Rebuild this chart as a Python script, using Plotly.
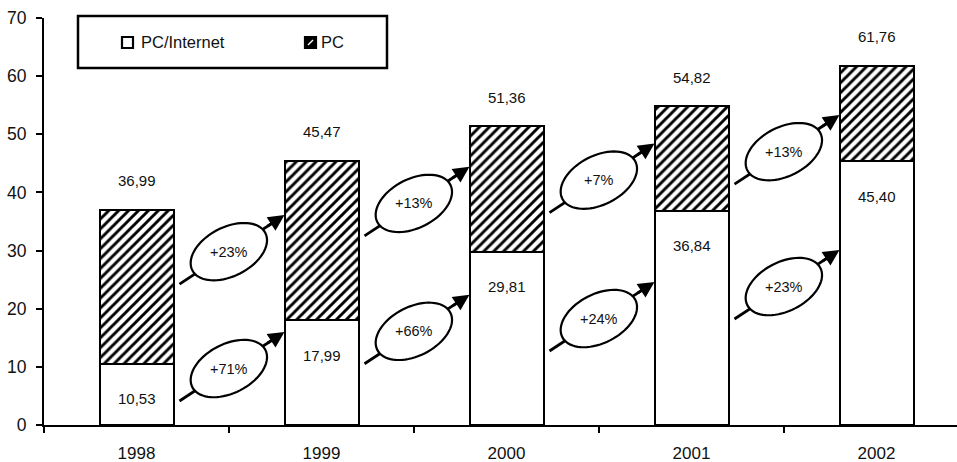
import math
import plotly.graph_objects as go

# --- data -------------------------------------------------------------
years = ["1998", "1999", "2000", "2001", "2002"]
pc_internet = [10.53, 17.99, 29.81, 36.84, 45.40]   # lower segment
totals = [36.99, 45.47, 51.36, 54.82, 61.76]        # PC/Internet + PC
pc_only = [round(t - p, 2) for t, p in zip(totals, pc_internet)]

growth_total = ["+23%", "+13%", "+7%", "+13%"]      # year-on-year, whole bar
growth_pci = ["+71%", "+66%", "+24%", "+23%"]       # year-on-year, PC/Internet

# heights (axis units) where the growth arrows end on the next bar
tip_total = [36.1, 44.4, 48.4, 53.3]
tip_pci = [16.0, 22.4, 24.6, 30.1]

# --- layout constants -------------------------------------------------
W, H = 957, 462
ML, MR, MT, MB = 44, 0, 18, 37
BAR_W = 0.4
X_SPAN = (W - ML - MR) / 185.0
FONT = "Liberation Sans, Arial, sans-serif"
INK = "#000000"
TXT = "#111111"

xs = list(range(len(years)))
fmt = lambda v: f"{v:.2f}".replace(".", ",")

fig = go.Figure()
fig.add_trace(go.Bar(
    x=xs, y=pc_internet, width=BAR_W, name="PC/Internet",
    marker=dict(color="white", line=dict(color=INK, width=2.5)),
    hoverinfo="skip", showlegend=False,
))
fig.add_trace(go.Bar(
    x=xs, y=pc_only, width=BAR_W, name="PC",
    marker=dict(
        color="white",
        line=dict(color=INK, width=2.5),
        pattern=dict(shape="/", size=7, solidity=0.42, fgcolor=INK, bgcolor="white", fgopacity=1),
    ),
    hoverinfo="skip", showlegend=False,
))

annotations = []
shapes = []

# value labels
for i in xs:
    annotations.append(dict(x=i, y=totals[i], xref="x", yref="y", text=fmt(totals[i]),
                            showarrow=False, yshift=29, font=dict(size=15, color=TXT, family=FONT)))
    annotations.append(dict(x=i, y=pc_internet[i], xref="x", yref="y", text=fmt(pc_internet[i]),
                            showarrow=False, yshift=-35, font=dict(size=15, color=TXT, family=FONT)))

# growth arrows: tail -> ellipse with label -> arrowhead on the next bar
TAIL_DX, TAIL_DY = -105.0, -69.0       # tail offset from the tip, pixels (y up)
ELL_A, ELL_B, ELL_ROT = 41.0, 24.5, math.radians(27)
ELL_POS = 0.47
HEAD_LEN = 22.0
L = math.hypot(TAIL_DX, TAIL_DY)
ux, uy = -TAIL_DX / L, -TAIL_DY / L


def ellipse_path(cx, cy):
    pts = []
    for k in range(73):
        t = 2 * math.pi * k / 72
        ex, ey = ELL_A * math.cos(t), ELL_B * math.sin(t)
        px = cx + ex * math.cos(ELL_ROT) - ey * math.sin(ELL_ROT)
        py = cy + ex * math.sin(ELL_ROT) + ey * math.cos(ELL_ROT)
        pts.append(f"{px:.2f},{py:.2f}")
    return "M" + " L".join(pts) + " Z"


line_shapes, ell_shapes = [], []
for i in range(len(years) - 1):
    for label, tip in ((growth_total[i], tip_total[i]), (growth_pci[i], tip_pci[i])):
        xa = i + 1 - BAR_W / 2
        common = dict(type="path", xref="x", yref="y", xsizemode="pixel", ysizemode="pixel",
                      xanchor=xa, yanchor=tip)
        line_shapes.append(dict(common, path=f"M{TAIL_DX},{TAIL_DY} L{-ux*8:.2f},{-uy*8:.2f}",
                                line=dict(color=INK, width=2.8)))
        cx, cy = TAIL_DX * (1 - ELL_POS), TAIL_DY * (1 - ELL_POS)
        ell_shapes.append(dict(common, path=ellipse_path(cx, cy), fillcolor="white",
                               line=dict(color=INK, width=2.2)))
        annotations.append(dict(x=xa, y=tip, xref="x", yref="y", text="", showarrow=True,
                                ax=-ux * HEAD_LEN, ay=uy * HEAD_LEN, axref="pixel", ayref="pixel",
                                arrowhead=2, arrowsize=1.15, arrowwidth=2.8, arrowcolor=INK, standoff=0))
        annotations.append(dict(x=xa, y=tip, xref="x", yref="y", text=label, showarrow=False,
                                xshift=cx, yshift=cy, font=dict(size=14.5, color=TXT, family=FONT)))

shapes += line_shapes + ell_shapes

# legend box
def px2paper(px, py):
    return (px - ML) / (W - ML - MR), (H - MB - py) / (H - MT - MB)

bx0, by0 = px2paper(78, 68)
bx1, by1 = px2paper(387, 16)
shapes.append(dict(type="rect", xref="paper", yref="paper", x0=bx0, y0=by0, x1=bx1, y1=by1,
                   fillcolor="white", line=dict(color=INK, width=2.5)))
s1x0, s1y0 = px2paper(122, 48)
s1x1, s1y1 = px2paper(133, 37)
shapes.append(dict(type="rect", xref="paper", yref="paper", x0=s1x0, y0=s1y0, x1=s1x1, y1=s1y1,
                   fillcolor="white", line=dict(color=INK, width=2.2)))
s2x0, s2y0 = px2paper(305, 48)
s2x1, s2y1 = px2paper(316, 37)
shapes.append(dict(type="rect", xref="paper", yref="paper", x0=s2x0, y0=s2y0, x1=s2x1, y1=s2y1,
                   fillcolor=INK, line=dict(color=INK, width=2.2)))
d0x, d0y = px2paper(308, 45)
d1x, d1y = px2paper(313, 40)
shapes.append(dict(type="line", xref="paper", yref="paper", x0=d0x, y0=d0y, x1=d1x, y1=d1y,
                   line=dict(color="white", width=1.5)))
t1x, t1y = px2paper(139, 42)
annotations.append(dict(x=t1x, y=t1y, xref="paper", yref="paper", text="PC/Internet", showarrow=False,
                        xanchor="left", yanchor="middle", font=dict(size=16.5, color=TXT, family=FONT)))
t2x, t2y = px2paper(319, 42)
annotations.append(dict(x=t2x, y=t2y, xref="paper", yref="paper", text="PC", showarrow=False,
                        xanchor="left", yanchor="middle", font=dict(size=16.5, color=TXT, family=FONT)))

fig.update_layout(
    width=W, height=H,
    margin=dict(l=ML, r=MR, t=MT, b=MB, pad=0),
    paper_bgcolor="white", plot_bgcolor="white",
    barmode="stack", bargap=0,
    showlegend=False,
    font=dict(family=FONT, color=TXT),
    shapes=shapes, annotations=annotations,
    xaxis=dict(
        range=[-0.5, -0.5 + X_SPAN], tickvals=xs, ticktext=years, ticks="",
        showline=True, linecolor=INK, linewidth=2.2, showgrid=False, zeroline=False,
        tickfont=dict(size=17, color=TXT, family=FONT), ticklabelstandoff=11,
        minor=dict(tickvals=[i - 0.5 for i in xs], ticks="outside", ticklen=6,
                   tickwidth=2, tickcolor=INK, showgrid=False),
    ),
    yaxis=dict(
        range=[0, 70], tick0=0, dtick=10, ticks="outside", ticklen=6, tickwidth=2, tickcolor=INK,
        showline=True, linecolor=INK, linewidth=2.2, showgrid=False, zeroline=False,
        tickfont=dict(size=17.5, color=TXT, family=FONT), ticklabelstandoff=6,
    ),
)

fig.write_html("out.html")
